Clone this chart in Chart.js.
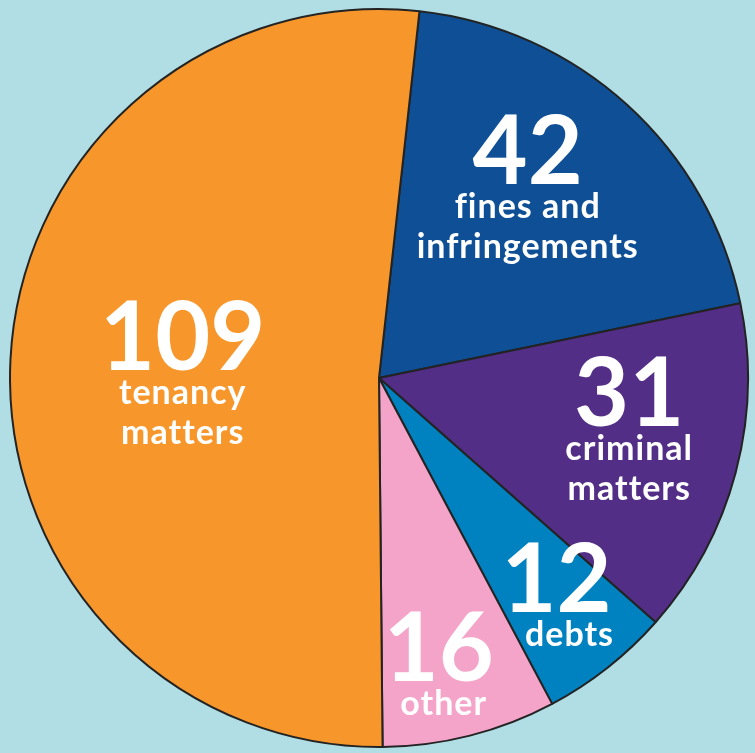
<!DOCTYPE html>
<html>
<head>
<meta charset="utf-8">
<script src="https://cdn.jsdelivr.net/npm/chart.js@4"></script>
<style>
  html, body { margin: 0; padding: 0; background: #b1dee4; }
  #wrap { width: 755px; height: 753px; }
</style>
</head>
<body>
<div id="wrap"><canvas id="chart_caseTypes" width="755" height="753"></canvas></div>
<script>
// data, clockwise from just right of 12 o'clock
var categories = ['fines and infringements', 'criminal matters', 'debts', 'other', 'tenancy matters'];
var caseCounts = [42, 31, 12, 16, 109];
var labelLines = [['fines and', 'infringements'], ['criminal', 'matters'], ['debts'], ['other'], ['tenancy', 'matters']];
var sliceColours = ['#0e4f95', '#532e87', '#0082c1', '#f4a4c9', '#f7962b'];

// where each number sits, as a fraction of the radius from the centre
var labelAnchor = [[0.403, -0.527], [0.678, 0.130], [0.481, 0.635], [0.162, 0.822], [-0.532, -0.022]];
var wordShift = [0, 0, 13, 5, 0];

var bigLabels = {
    id: 'bigLabels',
    afterDatasetsDraw: function(chart) {
        var ctx = chart.ctx;
        var meta = chart.getDatasetMeta(0);
        ctx.save();
        ctx.fillStyle = '#ffffff';
        ctx.textAlign = 'center';
        ctx.textBaseline = 'alphabetic';
        meta.data.forEach(function(arc, i) {
            var r = arc.outerRadius;
            var x = arc.x + labelAnchor[i][0] * r;
            var y = arc.y + labelAnchor[i][1] * r;
            ctx.letterSpacing = '0px';
            ctx.font = 'bold 95px Lato';
            ctx.fillText(String(caseCounts[i]), x, y);
            ctx.letterSpacing = '1px';
            ctx.font = 'bold 34px Lato';
            labelLines[i].forEach(function(line, j) {
                ctx.fillText(line, x + wordShift[i], y + 34 + j * 40);
            });
        });
        ctx.restore();
    }
};

var chart_caseTypes = new Chart(document.getElementById('chart_caseTypes'), {
    type: 'pie',
    data: {
        labels: categories,
        datasets: [{
            data: caseCounts,
            backgroundColor: sliceColours,
            borderColor: '#232323',
            borderWidth: 2
        }]
    },
    options: {
        animation: false,
        responsive: false,
        rotation: 6.3,
        layout: {
            padding: { left: 9, right: 6, top: 8, bottom: 5 }
        },
        plugins: {
            legend: { display: false },
            tooltip: { enabled: false },
            title: { display: false }
        }
    },
    plugins: [bigLabels]
});
</script>
</body>
</html>
